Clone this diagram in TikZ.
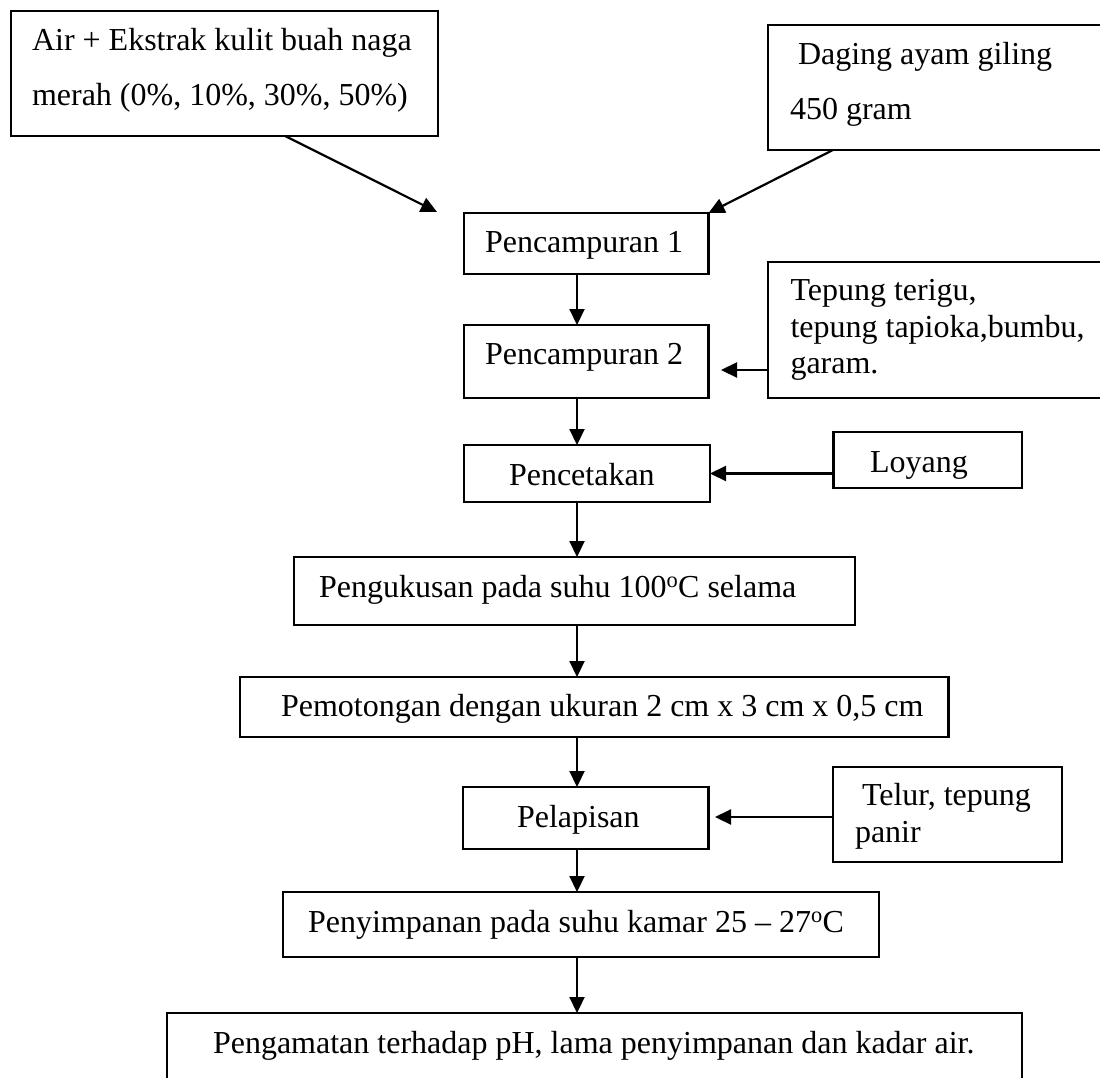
\documentclass[tikz,border=0pt]{standalone}
\usepackage{fontspec}
\setmainfont{Liberation Serif}
\usetikzlibrary{arrows.meta,calc}
\tikzset{
  box/.style={draw, rectangle, inner sep=0pt, outer sep=0pt, line width=2.2pt},
  txt/.style={anchor=base west, inner sep=0pt, outer sep=0pt, font=\fontsize{32}{37}\selectfont},
  arr/.style={line width=2.2pt, -{Triangle[length=16pt, width=15pt]}}
}
\begin{document}
\begin{tikzpicture}[x=1pt, y=-1pt]
\useasboundingbox (0,0) rectangle (1100,1078);
\clip (0,0) rectangle (1100,1078);
% boxes
\node[box, minimum width=427, minimum height=125] (air) at (224.5,73.5) {};
\node[box, minimum width=342, minimum height=125] (daging) at (939,87.5) {};
\node[box, minimum width=342, minimum height=136] (tepung) at (939,330) {};
\node[box, minimum width=244.5, minimum height=61] (p1) at (586.25,243.5) {};
\node[box, minimum width=244.5, minimum height=73] (p2) at (586.25,361.5) {};
\node[box, minimum width=246, minimum height=57] (cetak) at (587,473.5) {};
\node[box, minimum width=188.5, minimum height=56] (loyang) at (927.75,460) {};
\node[box, minimum width=561, minimum height=68] (kukus) at (574.5,591) {};
\node[box, minimum width=708.5, minimum height=60] (potong) at (594.25,707) {};
\node[box, minimum width=245.5, minimum height=62] (lapis) at (585.75,818) {};
\node[box, minimum width=229, minimum height=95] (telur) at (947.5,814.5) {};
\node[box, minimum width=596, minimum height=65] (simpan) at (581,924.5) {};
\node[box, minimum width=855, minimum height=82] (amat) at (594.5,1054) {};
% texts
\node[txt] (airA) at (32,50.5) {Air + Ekstrak kulit buah naga};
\node[txt] (airB) at (32,106) {merah (0\%, 10\%, 30\%, 50\%)};
\node[txt] (dagA) at (798,65) {Daging ayam giling};
\node[txt] (dagB) at (790,120) {450 gram};
\node[txt] (tepA) at (790.5,300) {Tepung terigu,};
\node[txt] (tepB) at (790.5,337) {tepung tapioka,bumbu,};
\node[txt] (tepC) at (790.5,373) {garam.};
\node[txt] (p1t) at (485,252) {Pencampuran 1};
\node[txt] (p2t) at (485,364) {Pencampuran 2};
\node[txt] (cetakt) at (509,485) {Pencetakan};
\node[txt] (loyangt) at (870,472) {Loyang};
\node[txt] (kukust) at (319,597) {Pengukusan pada suhu 100\textsuperscript{o}C selama};
\node[txt] (potongt) at (281,716) {Pemotongan dengan ukuran 2 cm x 3 cm x 0,5 cm};
\node[txt] (lapist) at (517,827) {Pelapisan};
\node[txt] (telA) at (862,805) {Telur, tepung};
\node[txt] (telB) at (855,842) {panir};
\node[txt] (simpant) at (308,932) {Penyimpanan pada suhu kamar 25 -- 27\textsuperscript{o}C};
\node[txt] (amatt) at (213,1053) {Pengamatan terhadap pH, lama penyimpanan dan kadar air.};
% helper coordinates
\coordinate (ax) at (577,0);
\coordinate (in1) at (437,212);
\coordinate (in2) at (721,370);
\coordinate (in3) at (715,817);
% connectors
\draw[arr] ($(air.south west)!0.642!(air.south east)$) -- (in1);
\draw[arr] ($(daging.south west)!0.19!(daging.south east)$) -- (p1.north east);
\draw[arr] (p1.south -| ax) -- (p2.north -| ax);
\draw[arr] (tepung.west |- in2) -- (in2);
\draw[arr] (p2.south -| ax) -- (cetak.north -| ax);
\draw[arr] (loyang.west |- cetak.east) -- (cetak.east);
\draw[arr] (cetak.south -| ax) -- (kukus.north -| ax);
\draw[arr] (kukus.south -| ax) -- (potong.north -| ax);
\draw[arr] (potong.south -| ax) -- (lapis.north -| ax);
\draw[arr] (telur.west |- in3) -- (in3);
\draw[arr] (lapis.south -| ax) -- (simpan.north -| ax);
\draw[arr] (simpan.south -| ax) -- (amat.north -| ax);
\end{tikzpicture}
\end{document}
